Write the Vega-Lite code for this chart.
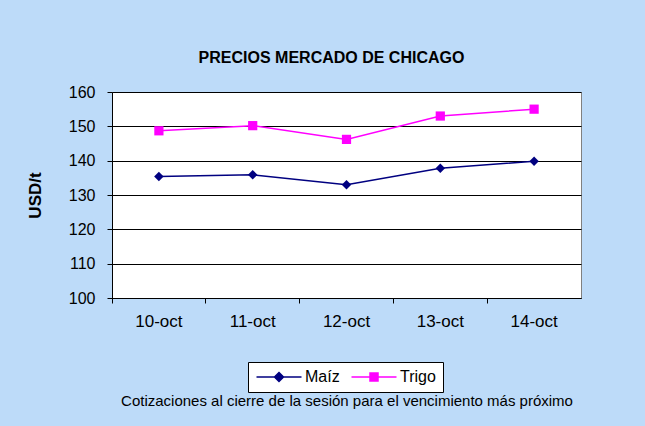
{
  "$schema": "https://vega.github.io/schema/vega-lite/v6.json",
  "width": 469,
  "height": 206,
  "autosize": {"type": "none"},
  "padding": {"left": 112, "top": 92, "right": 64, "bottom": 128},
  "background": "#bddbf9",
  "title": {"text": "PRECIOS MERCADO DE CHICAGO", "fontSize": 16, "font": "Liberation Sans", "fontWeight": "bold", "color": "#000000", "anchor": "middle", "dx": -15, "offset": 18},
  "data": {"values": [
    {"fecha": "10-oct", "serie": "Maíz", "valor": 135.4},
    {"fecha": "11-oct", "serie": "Maíz", "valor": 135.9},
    {"fecha": "12-oct", "serie": "Maíz", "valor": 133.0},
    {"fecha": "13-oct", "serie": "Maíz", "valor": 137.8},
    {"fecha": "14-oct", "serie": "Maíz", "valor": 139.8},
    {"fecha": "10-oct", "serie": "Trigo", "valor": 148.7},
    {"fecha": "11-oct", "serie": "Trigo", "valor": 150.2},
    {"fecha": "12-oct", "serie": "Trigo", "valor": 146.2},
    {"fecha": "13-oct", "serie": "Trigo", "valor": 153.0},
    {"fecha": "14-oct", "serie": "Trigo", "valor": 155.0}
  ]},
  "encoding": {
    "x": {"field": "fecha", "type": "ordinal", "scale": {"type": "band", "paddingInner": 0, "paddingOuter": 0},
      "axis": {"labelAngle": 0, "labelFontSize": 17, "labelFont": "Liberation Sans", "labelColor": "#000", "labelPadding": 10, "tickSize": 5, "tickColor": "#000", "domainColor": "#000", "bandPosition": 0, "grid": false,
        "title": "Cotizaciones al cierre de la sesión para el vencimiento más próximo", "titleFont": "Liberation Sans", "titleFontSize": 15, "titleFontWeight": "normal", "titleColor": "#000", "titlePadding": 64, "titleAnchor": "middle"}},
    "y": {"field": "valor", "type": "quantitative", "scale": {"domain": [100, 160], "nice": false, "zero": false},
      "axis": {"values": [100, 110, 120, 130, 140, 150, 160], "labelFontSize": 16, "labelFont": "Liberation Sans", "labelColor": "#000", "labelPadding": 12, "tickSize": 5, "tickColor": "#000", "domainColor": "#000", "gridColor": "#000", "gridOpacity": 1, "gridWidth": 1,
        "title": "USD/t", "titleFont": "Liberation Sans", "titleFontSize": 17, "titleFontWeight": "bold", "titleColor": "#000", "titlePadding": 24}},
    "color": {"field": "serie", "type": "nominal", "scale": {"domain": ["Maíz", "Trigo"], "range": ["#000080", "#ff00ff"]},
      "legend": {"orient": "none", "legendX": 136, "legendY": 270, "direction": "horizontal", "title": null, "fillColor": "#ffffff", "strokeColor": "#000000", "padding": 7, "labelFontSize": 16, "labelFont": "Liberation Sans", "labelColor": "#000", "symbolSize": 100, "symbolStrokeWidth": 1.5, "columnPadding": 8, "labelOffset": 18, "symbolOffset": 16,
        "encode": {"symbols": {"update": {"shape": {"signal": "datum.value === 'Maíz' ? 'M-4.5,0H4.5M0,-0.9L0.9,0L0,0.9L-0.9,0Z' : 'M-4.5,0H4.5M-0.8,-0.8H0.8V0.8H-0.8Z'"}, "fill": {"signal": "datum.value === 'Maíz' ? '#000080' : '#ff00ff'"}, "stroke": {"signal": "datum.value === 'Maíz' ? '#000080' : '#ff00ff'"}}}}}}
  },
  "layer": [
    {"mark": {"type": "line", "strokeWidth": 1.5}},
    {"transform": [{"filter": "datum.serie === 'Maíz'"}], "mark": {"type": "point", "shape": "diamond", "filled": true, "size": 90, "opacity": 1}},
    {"transform": [{"filter": "datum.serie === 'Trigo'"}], "mark": {"type": "point", "shape": "square", "filled": true, "size": 85, "opacity": 1}}
  ],
  "config": {"view": {"fill": "#ffffff", "stroke": "#808080", "strokeWidth": 1}}
}
